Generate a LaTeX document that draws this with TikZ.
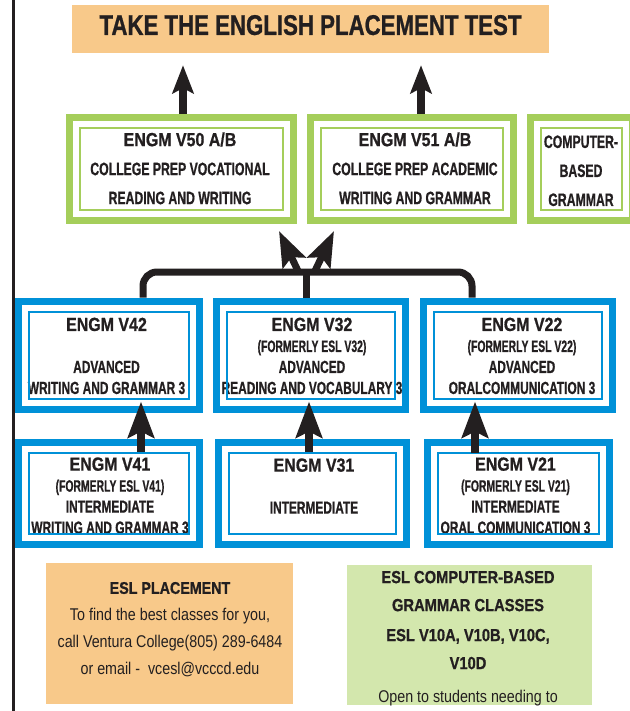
\documentclass[tikz,border=0pt]{standalone}
\usepackage{fontspec}
\setmainfont{Liberation Sans}[FakeStretch=0.68, BoldFeatures={FakeBold=0.8}]
\newfontfamily\headfont{Liberation Sans}[FakeStretch=0.84, BoldFeatures={FakeBold=0.8}]
\newfontfamily\narrowfont{Liberation Sans}[FakeStretch=0.63, BoldFeatures={FakeBold=0.6}]
\newfontfamily\titlefont{Liberation Sans}[FakeStretch=0.78, BoldFeatures={FakeBold=0.8}]
\usetikzlibrary{arrows.meta}

\definecolor{placeorange}{HTML}{F8C98A}
\definecolor{prepgreen}{HTML}{A5CE5B}
\definecolor{eslblue}{HTML}{0091D8}
\definecolor{notegreen}{HTML}{D3E7AD}
\definecolor{inkblack}{HTML}{231F20}

\newcommand\engm[1]{{\headfont\fontsize{19}{21}\selectfont #1}}
\newcommand\narrowtxt[1]{{\narrowfont\fontsize{16.5}{21}\selectfont #1}}

\tikzset{
  titlebox/.style={fill=placeorange, minimum width=477pt, minimum height=48pt, inner sep=0pt,
    text depth=8pt, text=inkblack, font=\titlefont\fontsize{28.5}{29}\selectfont\bfseries},
  prepbox/.style={draw=prepgreen, line width=7pt, inner sep=0pt, minimum height=103pt},
  prepline/.style={draw=prepgreen, line width=2pt},
  eslbox/.style={draw=eslblue, line width=7pt, inner sep=0pt},
  eslline/.style={draw=eslblue, line width=2pt},
  coursetext/.style={anchor=north, align=center, inner sep=0pt, text=inkblack,
    font=\fontsize{17.5}{21}\selectfont\bfseries},
  preptext/.style={coursetext, font=\fontsize{18}{29}\selectfont\bfseries},
  notebox/.style={inner sep=0pt, minimum height=141pt},
  notetext/.style={anchor=north, align=center, inner sep=0pt, text=inkblack,
    font=\headfont\fontsize{17}{27}\selectfont},
  uparrow/.style={draw=inkblack, line width=8pt, -{Stealth[length=28pt, width=21pt, inset=5pt]}},
  stepup/.style={draw=inkblack, line width=8pt, -{Stealth[length=36pt, width=26pt, inset=6pt]}},
  forkup/.style={draw=inkblack, line width=7pt, -{Stealth[length=35pt, width=25pt, inset=6pt]}},
  bracket/.style={draw=inkblack, line width=7pt, rounded corners=14pt}
}

\begin{document}
\begin{tikzpicture}[x=1pt, y=-1pt]
	\useasboundingbox (0,0) rectangle (629,711);
	% margin rule
	\draw[inkblack, line width=2.2pt] (13.5,0) -- (13.5,711);

	\node[titlebox] (title) at (310.5,29) {TAKE THE ENGLISH PLACEMENT TEST};

	% college prep row
	\node[prepbox, minimum width=224pt] (g1) at (181.5,169) {};
	\node[prepbox, minimum width=203pt] (g2) at (412,169) {};
	\node[prepbox, minimum width=102pt] (g3) at (581.5,169) {};
	\draw[prepline] ([shift={(14,14)}]g1.north west) rectangle ([shift={(-14,-14)}]g1.south east);
	\draw[prepline] ([shift={(14,14)}]g2.north west) rectangle ([shift={(-14,-14)}]g2.south east);
	\draw[prepline] ([shift={(14,14)}]g3.north west) rectangle ([shift={(-14,-14)}]g3.south east);
	\node[preptext] (g1t) at (180,132.2) {\engm{ENGM V50 A/B}\\COLLEGE PREP VOCATIONAL\\READING AND WRITING};
	\node[preptext] (g2t) at (415,132.2) {\engm{ENGM V51 A/B}\\COLLEGE PREP ACADEMIC\\WRITING AND GRAMMAR};
	\node[preptext] (g3t) at (581,135.2) {COMPUTER-\\BASED\\GRAMMAR};

	% advanced row
	\node[eslbox, minimum width=181pt, minimum height=108pt] (v42) at (109,355) {};
	\node[eslbox, minimum width=189pt, minimum height=108pt] (v32) at (311,355) {};
	\node[eslbox, minimum width=189pt, minimum height=108pt] (v22) at (518,355) {};
	\node[coursetext] (v42t) at (106.5,317.5) {\engm{ENGM V42}\\[21pt]ADVANCED\\WRITING AND GRAMMAR 3};
	\node[coursetext] (v32t) at (312,317.5) {\engm{ENGM V32}\\\narrowtxt{(FORMERLY ESL V32)}\\ADVANCED\\READING AND VOCABULARY 3};
	\node[coursetext] (v22t) at (522,317.5) {\engm{ENGM V22}\\\narrowtxt{(FORMERLY ESL V22)}\\ADVANCED\\ORALCOMMUNICATION 3};
	\draw[eslline] ([shift={(14,14)}]v42.north west) rectangle ([shift={(-14,-14)}]v42.south east);
	\draw[eslline] ([shift={(14,14)}]v32.north west) rectangle ([shift={(-14,-14)}]v32.south east);
	\draw[eslline] ([shift={(14,14)}]v22.north west) rectangle ([shift={(-14,-14)}]v22.south east);

	% intermediate row
	\node[eslbox, minimum width=181pt, minimum height=102pt] (v41) at (109,493.5) {};
	\node[eslbox, minimum width=188pt, minimum height=102pt] (v31) at (312.5,493.5) {};
	\node[eslbox, minimum width=182pt, minimum height=102pt] (v21) at (518.5,493.5) {};
	\begin{scope}
		\clip ([shift={(14,14)}]v41.north west) rectangle ([shift={(-14,-14)}]v41.south east);
		\node[coursetext] (v41t) at (110,457.2) {\engm{ENGM V41}\\\narrowtxt{(FORMERLY ESL V41)}\\INTERMEDIATE\\WRITING AND GRAMMAR 3};
	\end{scope}
	\node[coursetext] (v31t) at (314,458.2) {\engm{ENGM V31}\\[21pt]INTERMEDIATE};
	\begin{scope}
		\clip ([shift={(14,14)}]v21.north west) rectangle ([shift={(-14,-14)}]v21.south east);
		\node[coursetext] (v21t) at (515.5,457.2) {\engm{ENGM V21}\\\narrowtxt{(FORMERLY ESL V21)}\\INTERMEDIATE\\ORAL COMMUNICATION 3};
	\end{scope}
	\draw[eslline] ([shift={(14,14)}]v41.north west) rectangle ([shift={(-14,-14)}]v41.south east);
	\draw[eslline] ([shift={(14,14)}]v31.north west) rectangle ([shift={(-14,-14)}]v31.south east);
	\draw[eslline] ([shift={(14,14)}]v21.north west) rectangle ([shift={(-14,-14)}]v21.south east);

	% arrows up to the placement test
	\coordinate (col50) at (183,0);
	\coordinate (col51) at (421,0);
	\draw[uparrow, shorten >=12pt] (g1.north -| col50) -- (title.south -| col50);
	\draw[uparrow, shorten >=12pt] (g2.north -| col51) -- (title.south -| col51);

	% bracket from the advanced row
	\coordinate (fork) at (306.5,272);
	\coordinate (leg42) at (143,0);
	\coordinate (leg22) at (472,0);
	\coordinate (tipl) at (279,231);
	\coordinate (tipr) at (334,231);
	\draw[bracket] (v42.north -| leg42) |- (fork) -| (v22.north -| leg22);
	\draw[bracket] (fork) -- (v32.north -| fork);
	\draw[forkup] ([xshift=-8pt]fork) -- (tipl);
	\draw[forkup] ([xshift=8pt]fork) -- (tipr);

	% intermediate to advanced
	\coordinate (col4) at (141,0);
	\coordinate (col3) at (309,0);
	\coordinate (col2) at (475,0);
	\draw[stepup, shorten <=-13pt, shorten >=-11pt] (v41.north -| col4) -- (v42.south -| col4);
	\draw[stepup, shorten <=-13pt, shorten >=-11pt] (v31.north -| col3) -- (v32.south -| col3);
	\draw[stepup, shorten <=-14pt, shorten >=-11pt] (v21.north -| col2) -- (v22.south -| col2);

	% notes
	\node[notebox, fill=placeorange, minimum width=247pt] (placement) at (169.5,633.5) {};
	\node[notetext] (placetext) at (170,581.8) {{\bfseries ESL PLACEMENT}\\To find the best classes for you,\\call Ventura College(805) 289-6484\\or email -~ vcesl@vcccd.edu};
	\node[notebox, fill=notegreen, minimum width=245pt, minimum height=140pt] (grammar) at (469.5,635) {};
	\node[notetext, font=\headfont\fontsize{17.5}{28}\selectfont\bfseries] (grammartext) at (468,570.7) {ESL COMPUTER-BASED\\GRAMMAR CLASSES\\[2pt]ESL V10A, V10B, V10C,\\V10D\\[5pt]{\mdseries\fontsize{17}{28}\selectfont Open to students needing to}};
\end{tikzpicture}
\end{document}
